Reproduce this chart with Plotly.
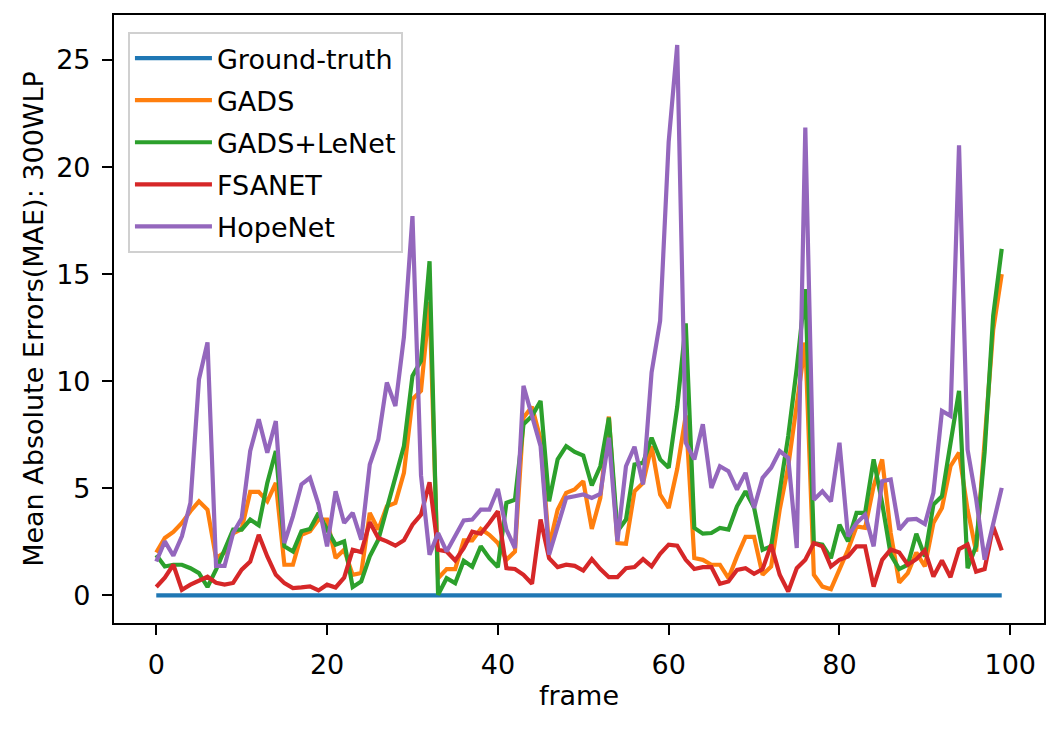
import plotly.graph_objects as go

frames = list(range(100))

ground_truth = [0.0] * 100

gads = [2.0, 2.68, 2.96, 3.38, 3.93, 4.39, 4.0, 1.74, 2.0, 2.9,
        3.1, 4.83, 4.83, 4.39, 5.25, 1.43, 1.43, 2.83, 2.99, 3.54,
        3.54, 1.74, 2.13, 0.96, 1.04, 3.85, 3.07, 4.16, 4.32, 5.72,
        9.16, 9.55, 13.7, 0.8, 1.23, 1.23, 2.57, 2.57, 3.1, 2.83,
        2.44, 1.66, 2.05, 8.3, 8.81, 7.28, 2.29, 4.0, 4.79, 4.95,
        5.33, 3.1, 4.55, 8.35, 2.44, 2.41, 4.86, 5.25, 6.97, 4.71,
        4.08, 5.9, 8.4, 1.74, 1.66, 1.43, 1.43, 0.8, 1.82, 2.73,
        2.73, 0.96, 1.35, 4.0, 6.03, 8.9, 11.8, 0.96, 0.41, 0.29,
        1.19, 2.13, 3.22, 3.15, 5.1, 6.35, 2.91, 0.6, 1.04, 2.0,
        1.35, 3.38, 4.08, 6.03, 6.66, 4.0, 2.05, 7.0, 12.4, 15.0]

gads_lenet = [1.89, 1.35, 1.43, 1.43, 1.27, 1.04, 0.39, 1.2, 2.13, 3.07,
              3.07, 3.54, 3.27, 5.25, 6.74, 2.29, 2.05, 2.99, 3.1, 3.85,
              3.07, 2.37, 2.52, 0.39, 0.65, 1.82, 2.6, 4.08, 5.49, 6.97,
              10.25, 10.95, 15.6, 0.03, 0.8, 0.57, 1.62, 1.34, 2.29, 1.74,
              1.32, 4.32, 4.47, 7.99, 8.38, 9.08, 4.39, 6.35, 6.97, 6.7,
              6.53, 5.13, 6.03, 8.3, 2.99, 3.54, 6.11, 6.19, 7.36, 6.35,
              5.96, 8.8, 12.7, 3.15, 2.88, 2.91, 3.15, 3.07, 4.16, 4.86,
              4.1, 2.13, 2.29, 4.94, 7.44, 10.6, 14.3, 2.44, 2.37, 1.74,
              3.3, 2.52, 3.85, 3.85, 6.35, 4.3, 1.9, 1.23, 1.43, 2.88,
              1.82, 4.24, 4.63, 7.1, 9.55, 1.27, 2.3, 6.7, 13.06, 16.18]

fsanet = [0.39, 0.83, 1.43, 0.26, 0.5, 0.69, 0.87, 0.59, 0.5, 0.58,
          1.2, 1.58, 2.83, 1.82, 0.96, 0.57, 0.34, 0.37, 0.42, 0.23,
          0.5, 0.37, 0.83, 2.13, 2.02, 3.41, 2.68, 2.52, 2.32, 2.57,
          3.3, 3.77, 5.28, 2.13, 2.05, 1.63, 2.2, 2.97, 2.88, 3.38,
          3.93, 1.27, 1.23, 0.96, 0.54, 3.54, 1.74, 1.32, 1.43, 1.38,
          1.16, 1.69, 1.23, 0.85, 0.85, 1.27, 1.32, 1.69, 1.35, 1.94,
          2.37, 2.32, 1.66, 1.23, 1.32, 1.32, 0.54, 0.65, 1.19, 1.27,
          1.01, 1.23, 2.37, 0.96, 0.18, 1.27, 1.66, 2.44, 2.29, 1.35,
          1.66, 1.82, 2.29, 2.29, 0.41, 1.66, 2.14, 2.0, 1.43, 1.69,
          2.1, 0.88, 1.63, 0.85, 2.16, 2.37, 1.11, 1.23, 3.22, 2.1]

hopenet = [1.58, 2.52, 1.85, 2.76, 4.32, 10.09, 11.81, 1.38, 1.38, 2.91,
           3.6, 6.74, 8.22, 6.66, 8.14, 2.44, 3.69, 5.18, 5.49, 4.24,
           2.29, 4.86, 3.38, 3.85, 2.6, 6.11, 7.28, 9.94, 8.84, 12.06,
           17.71, 5.6, 1.9, 2.91, 2.05, 2.76, 3.5, 3.54, 4.0, 4.0,
           4.97, 3.07, 2.21, 9.78, 8.38, 6.97, 1.9, 3.22, 4.55, 4.63,
           4.71, 4.55, 4.74, 7.36, 2.52, 6.03, 6.94, 5.18, 10.41, 12.82,
           21.18, 25.7, 7.13, 6.35, 7.99, 5.02, 6.03, 5.8, 4.94, 5.72,
           4.08, 5.49, 5.96, 6.74, 6.42, 2.21, 21.84, 4.47, 4.86, 4.39,
           7.13, 2.76, 3.38, 3.77, 2.29, 5.33, 5.41, 3.07, 3.54, 3.57,
           3.33, 4.79, 8.61, 8.38, 21.02, 6.81, 4.5, 1.66, 3.4, 5.02]

series_names = ["Ground-truth", "GADS", "GADS+LeNet", "FSANET", "HopeNet"]
series_values = [ground_truth, gads, gads_lenet, fsanet, hopenet]
colors = ["#1f77b4", "#ff7f0e", "#2ca02c", "#d62728", "#9467bd"]

x_ticks = [0, 20, 40, 60, 80, 100]
y_ticks = [0, 5, 10, 15, 20, 25]

FONT = "DejaVu Sans"
FS = 27

fig = go.Figure()
for i, (name, vals, col) in enumerate(zip(series_names, series_values, colors)):
    fig.add_trace(go.Scatter(
        x=frames, y=vals, mode="lines", name=name,
        line=dict(color=col, width=4.2),
        legendgroup=f"g{i}",
    ))

axis_common = dict(
    showline=True, linecolor="black", linewidth=2.2, mirror=True,
    ticks="outside", ticklen=10, tickwidth=2.2, tickcolor="black",
    showgrid=False, zeroline=False, automargin=False,
    tickfont=dict(family=FONT, size=FS, color="black"),
)

fig.update_xaxes(
    range=[-4.95, 103.95], tickvals=x_ticks,
    title=dict(text="frame", font=dict(family=FONT, size=FS, color="black"), standoff=8),
    ticklabelstandoff=6,
    **axis_common,
)
fig.update_yaxes(
    range=[-1.29, 27.1], tickvals=y_ticks,
    title=dict(text="Mean Absolute Errors(MAE): 300WLP",
               font=dict(family=FONT, size=FS, color="black"), standoff=5),
    ticklabelstandoff=6,
    **axis_common,
)

fig.update_layout(
    width=1063, height=730,
    margin=dict(l=106, r=27, t=7, b=115, autoexpand=False),
    paper_bgcolor="white", plot_bgcolor="white",
    font=dict(family=FONT, size=FS, color="black"),
    legend=dict(
        x=0.015, y=0.972, xanchor="left", yanchor="top",
        bgcolor="rgba(255,255,255,0.8)", bordercolor="#d0d0d0", borderwidth=2,
        font=dict(family=FONT, size=FS, color="black"),
        traceorder="grouped", tracegroupgap=4, itemwidth=77,
    ),
    showlegend=True,
)

fig.write_html("out.html")
